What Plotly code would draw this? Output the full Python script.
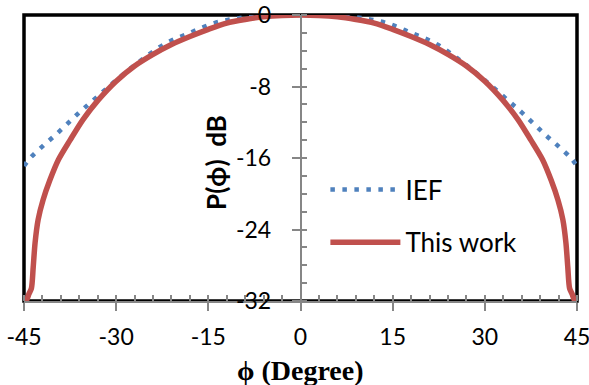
import plotly.graph_objects as go

# ---- data ----
ief_phi = [-45, -44, -42, -40, -38, -36, -34, -30, -26, -22, -18, -14, -10, -6, -3, 0,
           3, 6, 10, 14, 18, 22, 26, 30, 34, 36, 38, 40, 42, 44, 45]
ief_db = [-16.9, -16.0, -14.7, -13.5, -12.2, -10.9, -9.7, -7.3, -5.1, -3.2, -2.0, -0.9, -0.35, -0.12, -0.03, 0,
          -0.03, -0.12, -0.35, -0.9, -2.0, -3.2, -5.1, -7.3, -9.7, -10.9, -12.2, -13.5, -14.7, -16.0, -16.9]

work_phi = [-45, -44.6, -44.2, -43.8, -43.5, -43.2, -42.7, -41.9, -40.8, -39.4, -37.5, -35.4, -32.9,
            -30, -27, -24, -21, -18, -15, -12, -9, -6, -3, 0,
            3, 6, 9, 12, 15, 18, 21, 24, 27, 30,
            32.9, 35.4, 37.5, 39.4, 40.8, 41.9, 42.7, 43.2, 43.5, 43.8, 44.2, 44.6, 45]
work_db = [-32, -31.9, -31.2, -30.6, -28.2, -25.5, -22.9, -20.7, -18.5, -16.2, -14.0, -11.7, -9.5,
           -7.4, -5.7, -4.4, -3.3, -2.4, -1.6, -0.9, -0.5, -0.2, -0.05, 0,
           -0.05, -0.2, -0.5, -0.9, -1.6, -2.4, -3.3, -4.4, -5.7, -7.4,
           -9.5, -11.7, -14.0, -16.2, -18.5, -20.7, -22.9, -25.5, -28.2, -30.6, -31.2, -31.9, -32]

x_ticks = [-45, -30, -15, 0, 15, 30, 45]
y_ticks = [-32, -24, -16, -8, 0]

BLUE = "#4F81BD"
RED = "#C0504D"
GRAY = "#868686"
TICKFONT = dict(family="Lato", size=23, color="black")

fig = go.Figure()
fig.add_trace(go.Scatter(x=ief_phi, y=ief_db, mode="lines", name="IEF",
                         line=dict(color=BLUE, width=4.5, dash="4.5px,7.5px", shape="spline"),
                         legendgroup="a"))
fig.add_trace(go.Scatter(x=work_phi, y=work_db, mode="lines", name="This work",
                         line=dict(color=RED, width=5.5, shape="spline", smoothing=0.8),
                         legendgroup="b"))

fig.update_layout(
    width=589, height=385,
    margin=dict(l=24, r=12, t=15, b=84),
    plot_bgcolor="white", paper_bgcolor="white",
    showlegend=True,
    legend=dict(x=0.545, y=0.472, xanchor="left", yanchor="top",
                font=dict(family="Lato", size=26, color="black"),
                bgcolor="rgba(0,0,0,0)", itemwidth=70, tracegroupgap=16),
    xaxis=dict(range=[-45, 45], tickvals=x_ticks, ticktext=[str(v) for v in x_ticks],
               automargin=False, ticklabeloverflow="allow",
               showgrid=False, zeroline=False, showline=True, linecolor=GRAY, linewidth=1.5,
               ticks="outside", ticklen=8, tickcolor=GRAY, tickwidth=1.5,
               minor=dict(dtick=3, tick0=-45, ticks="inside", ticklen=6, tickcolor=GRAY, tickwidth=1.5),
               tickfont=TICKFONT, ticklabelstandoff=7),
    yaxis=dict(range=[-32, 0], tickvals=y_ticks, ticktext=[str(v) for v in y_ticks],
               anchor="free", position=0.5, side="left", automargin=False,
               ticklabeloverflow="allow",
               showgrid=False, zeroline=False, showline=True, linecolor=GRAY, linewidth=1.5,
               ticks="outside", ticklen=8, tickcolor=GRAY, tickwidth=1.5,
               minor=dict(dtick=2, tick0=0, ticks="inside", ticklen=6, tickcolor=GRAY, tickwidth=1.5),
               tickfont=TICKFONT, ticklabelstandoff=16),
    shapes=[dict(type="rect", xref="paper", yref="paper", x0=0, x1=1, y0=0, y1=1,
                 line=dict(color="black", width=3.5), layer="below")],
    annotations=[
        dict(text="<b>P(ϕ)\u00a0\u00a0dB</b>", xref="paper", yref="paper", x=0.347, y=0.486,
             textangle=-90, showarrow=False, xanchor="center", yanchor="middle",
             font=dict(family="Lato", size=26, color="black")),
        dict(text="<b>ϕ (Degree)</b>", xref="paper", yref="paper", x=0.5, y=-0.242,
             showarrow=False, xanchor="center", yanchor="middle",
             font=dict(family="Liberation Serif", size=28, color="black")),
    ],
)

fig.write_html("out.html")
